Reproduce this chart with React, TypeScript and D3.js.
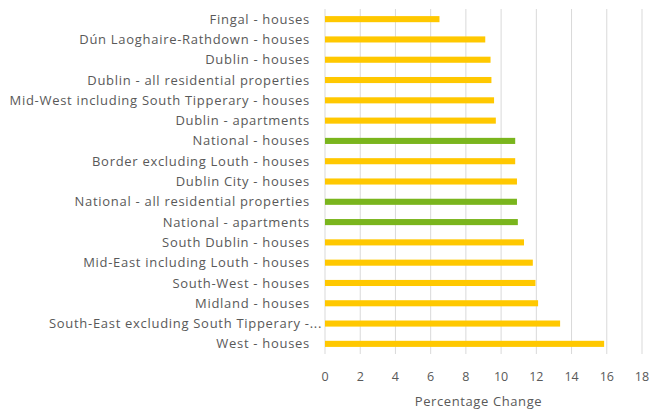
import React, { useEffect, useRef } from 'react'
import * as d3 from 'd3'

// categories top to bottom, as in the source chart
const categories = [
  'Fingal - houses',
  'Dún Laoghaire-Rathdown - houses',
  'Dublin - houses',
  'Dublin - all residential properties',
  'Mid-West including South Tipperary - houses',
  'Dublin - apartments',
  'National - houses',
  'Border excluding Louth - houses',
  'Dublin City - houses',
  'National - all residential properties',
  'National - apartments',
  'South Dublin - houses',
  'Mid-East including Louth - houses',
  'South-West - houses',
  'Midland - houses',
  'South-East excluding South Tipperary - houses',
  'West - houses',
]
const values = [6.5, 9.1, 9.4, 9.45, 9.6, 9.7, 10.8, 10.8, 10.9, 10.9, 10.95, 11.3, 11.8, 11.95, 12.1, 13.35, 15.85]
const nationalFlags = [false, false, false, false, false, false, true, false, false, true, true, false, false, false, false, false, false]
const ticks = [0, 2, 4, 6, 8, 10, 12, 14, 16, 18]

const W = 651
const H = 409
const FONT = '"Open Sans", Lato, sans-serif'
const TEXT = '#595959'

// long labels get cut the way the spreadsheet did it
function shorten(s: string) {
  return s.length > 43 ? s.slice(0, 37) + '-...' : s
}

export default function App() {
  const ref = useRef<SVGSVGElement>(null)

  useEffect(() => {
    const svg = d3.select(ref.current)
    svg.selectAll('*').remove()

    const margin = { top: 9, right: 9, bottom: 55, left: 325 }
    const width = W - margin.left - margin.right
    const height = H - margin.top - margin.bottom

    const x = d3.scaleLinear().domain([0, 18]).range([0, width])
    const y = d3.scaleBand().domain(categories).range([0, height]).paddingInner(0.7).paddingOuter(0.35)

    const g = svg.append('g').attr('transform', `translate(${margin.left},${margin.top})`)

    // vertical gridlines
    g.append('g')
      .selectAll('line')
      .data(ticks)
      .enter()
      .append('line')
      .attr('x1', d => x(d))
      .attr('x2', d => x(d))
      .attr('y1', 0)
      .attr('y2', height)
      .attr('stroke', '#d9d9d9')
      .attr('stroke-width', 1)

    g.append('g')
      .selectAll('rect')
      .data(categories)
      .enter()
      .append('rect')
      .attr('x', x(0))
      .attr('y', d => y(d))
      .attr('width', (d, i) => x(values[i]) - x(0))
      .attr('height', y.bandwidth())
      .attr('fill', (d, i) => (nationalFlags[i] ? '#7AB51D' : '#FFC800'))

    // category labels
    g.append('g')
      .selectAll('text')
      .data(categories)
      .enter()
      .append('text')
      .attr('x', d => (d.length > 43 ? -3 : -15))
      .attr('y', d => y(d) + y.bandwidth() / 2)
      .attr('dy', '0.35em')
      .attr('text-anchor', 'end')
      .attr('font-family', FONT)
      .attr('font-size', 13)
      .attr('letter-spacing', 0.7)
      .attr('fill', TEXT)
      .text(d => shorten(d))

    // tick labels
    g.append('g')
      .selectAll('text')
      .data(ticks)
      .enter()
      .append('text')
      .attr('x', d => x(d))
      .attr('y', height + 23)
      .attr('dy', '0.35em')
      .attr('text-anchor', 'middle')
      .attr('font-family', FONT)
      .attr('font-size', 12.5)
      .attr('fill', TEXT)
      .text(d => d)

    g.append('text')
      .attr('x', width / 2 - 5)
      .attr('y', height + 47)
      .attr('dy', '0.35em')
      .attr('text-anchor', 'middle')
      .attr('font-family', FONT)
      .attr('font-size', 13)
      .attr('letter-spacing', 0.6)
      .attr('fill', TEXT)
      .text('Percentage Change')
  }, [])

  return (
    <div style={{ position: 'absolute', left: 0, top: 0 }}>
      <svg ref={ref} width={W} height={H} style={{ display: 'block', background: '#fff' }} />
    </div>
  )
}
